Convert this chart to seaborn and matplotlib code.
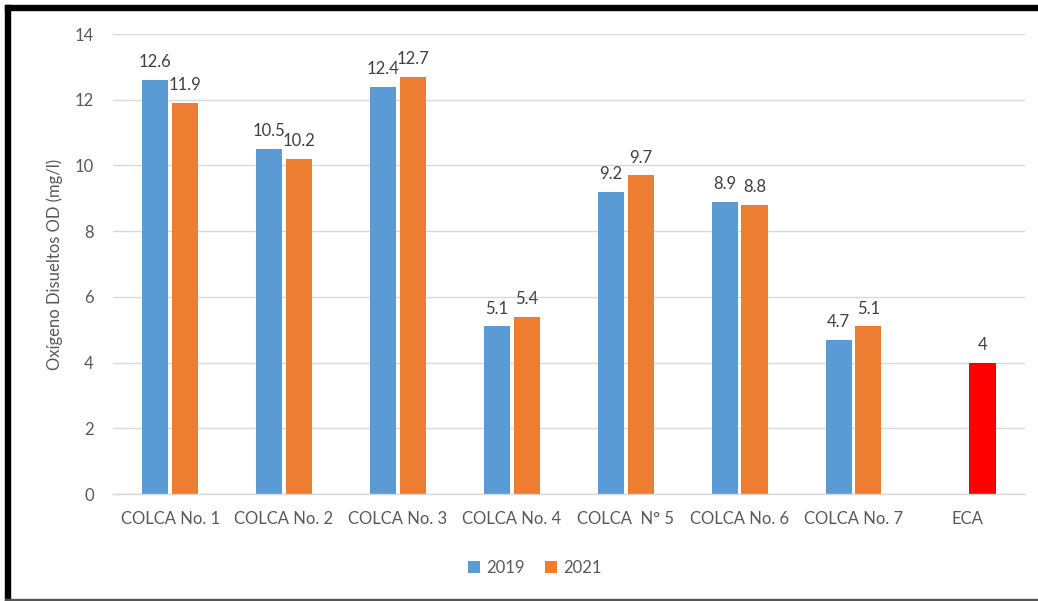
import matplotlib
matplotlib.use("Agg")
import matplotlib.pyplot as plt
from matplotlib.patches import Rectangle
import seaborn as sns
import pandas as pd
import numpy as np

categories = ["COLCA No. 1", "COLCA No. 2", "COLCA No. 3", "COLCA No. 4",
              "COLCA  N\u00b0 5", "COLCA No. 6", "COLCA No. 7", "ECA"]
values_2019 = [12.6, 10.5, 12.4, 5.1, 9.2, 8.9, 4.7, np.nan]
values_2021 = [11.9, 10.2, 12.7, 5.4, 9.7, 8.8, 5.1, 4.0]
series = ["2019", "2021"]
y_ticks = [0, 2, 4, 6, 8, 10, 12, 14]

sns.set_theme(style="white")
plt.rcParams['font.family'] = ['Lato', 'DejaVu Sans']

rows = []
for c, a, b in zip(categories, values_2019, values_2021):
    if not np.isnan(a):
        rows.append({"cat": c, "year": "2019", "val": a})
    rows.append({"cat": c, "year": "2021", "val": b})
df = pd.DataFrame(rows)

fig = plt.figure(figsize=(10.38, 6.01), dpi=100)
ax = fig.add_axes([0.109, 0.178, 0.878, 0.7654])

palette = {"2019": "#5B9BD5", "2021": "#ED7D31"}
sns.barplot(data=df, x="cat", y="val", hue="year", order=categories,
            hue_order=series, palette=palette, width=0.52, gap=0.12,
            saturation=1, ax=ax, legend=True, linewidth=0)

for p in ax.patches:
    h = p.get_height()
    if p.get_width() == 0 or np.isnan(h):
        continue
    cx = p.get_x() + p.get_width() / 2
    if cx > 6.5 and h > 0:
        p.set_facecolor("#FF0000")
        p.set_edgecolor("#C00000")
        p.set_linewidth(0.6)

for cont in ax.containers:
    labels = []
    for v in cont.datavalues:
        labels.append("" if np.isnan(v) else f"{v:g}")
    ax.bar_label(cont, labels=labels, padding=7, fontsize=12, color="#404040")

ax.set_ylim(0, 14)
ax.set_xlim(-0.5, 7.5)
ax.set_yticks(y_ticks)
ax.set_yticklabels([str(t) for t in y_ticks])
ax.yaxis.grid(True, color="#D9D9D9", linewidth=1)
ax.set_axisbelow(True)
for s in ["top", "right", "left"]:
    ax.spines[s].set_visible(False)
ax.spines["bottom"].set_color("#D9D9D9")
ax.spines["bottom"].set_linewidth(1)
ax.tick_params(axis="both", length=0, labelsize=12, colors="#595959")
ax.tick_params(axis="y", pad=14)
ax.tick_params(axis="x", pad=12)
ax.set_xlabel("")
ax.set_ylabel("Ox\u00edgeno Disueltos OD (mg/l)", fontsize=12, color="#595959", labelpad=8)

handles, lbls = ax.get_legend_handles_labels()
ax.get_legend().remove()
fig.legend(handles, lbls, loc="center", bbox_to_anchor=(535 / 1038, 1 - 568 / 601),
           ncol=2, frameon=False, fontsize=12, handlelength=0.7, handleheight=0.7,
           handletextpad=0.4, columnspacing=1.2, labelcolor="#595959")

# image frame
fig.patches.append(Rectangle((5 / 1038, 0), 5 / 1038, 1 - 5 / 601, transform=fig.transFigure,
                             color="black", zorder=10))
fig.patches.append(Rectangle((5 / 1038, 1 - 10 / 601), 1, 5 / 601, transform=fig.transFigure,
                             color="black", zorder=10))
fig.patches.append(Rectangle((5 / 1038, 0), 1, 2.5 / 601, transform=fig.transFigure,
                             color="#555555", zorder=10))

fig.savefig("out.png", dpi=100)
